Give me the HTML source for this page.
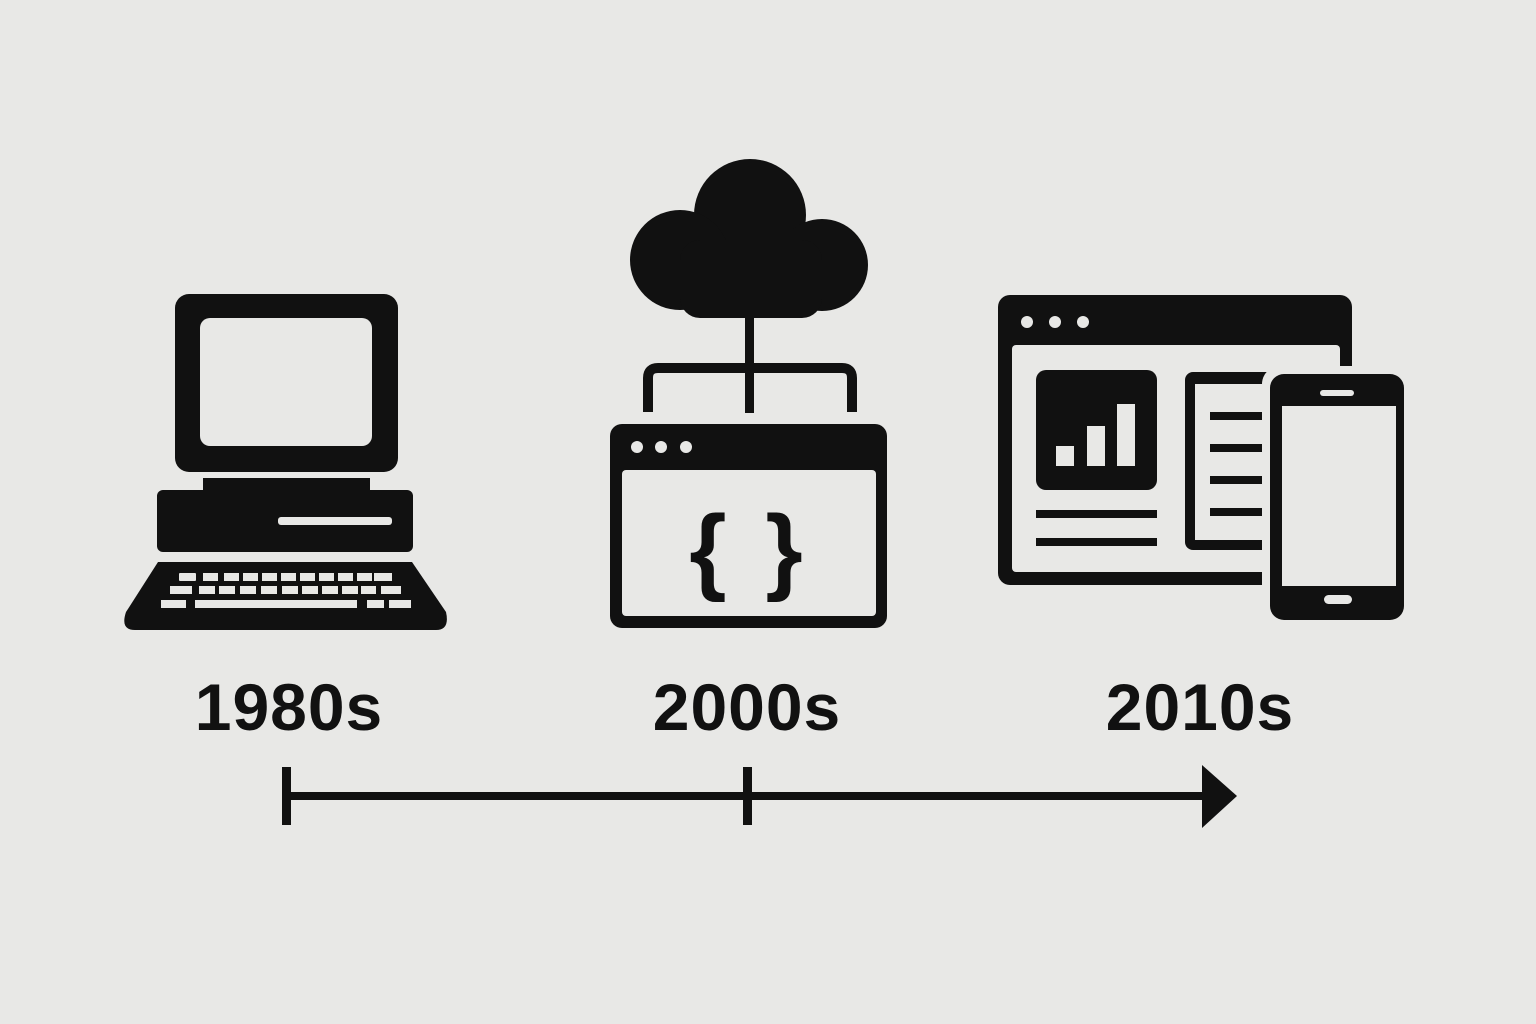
<!DOCTYPE html>
<html><head><style>
html,body{margin:0;padding:0;background:#e8e8e6;}
svg{display:block;}
text{font-family:"Liberation Sans",sans-serif;font-weight:bold;}
</style></head><body>
<svg width="1536" height="1024" viewBox="0 0 1536 1024" xmlns="http://www.w3.org/2000/svg">
<rect width="1536" height="1024" fill="#e8e8e6"/>
<g fill="#111">
<!-- computer -->
<rect x="175" y="294" width="223" height="178" rx="14"/>
<rect x="200" y="318" width="172" height="128" rx="10" fill="#e8e8e6"/>
<rect x="203" y="478" width="167" height="16"/>
<rect x="157" y="490" width="256" height="62" rx="6"/>
<rect x="278" y="517" width="114" height="8" rx="3" fill="#e8e8e6"/>
<path d="M158 562 L412 562 L446 612 Q450 630 436 630 L135 630 Q120 630 126 612 Z"/>
<g fill="#e8e8e6">
<rect x="179" y="573" width="17" height="8" rx="1"/><rect x="203" y="573" width="15" height="8"/><rect x="224" y="573" width="15" height="8"/><rect x="243" y="573" width="15" height="8"/><rect x="262" y="573" width="15" height="8"/><rect x="281" y="573" width="15" height="8"/><rect x="300" y="573" width="15" height="8"/><rect x="319" y="573" width="15" height="8"/><rect x="338" y="573" width="15" height="8"/><rect x="357" y="573" width="15" height="8"/><rect x="374" y="573" width="18" height="8"/>
<rect x="170" y="586" width="22" height="8"/><rect x="199" y="586" width="16" height="8"/><rect x="219" y="586" width="16" height="8"/><rect x="240" y="586" width="16" height="8"/><rect x="261" y="586" width="16" height="8"/><rect x="282" y="586" width="16" height="8"/><rect x="302" y="586" width="16" height="8"/><rect x="322" y="586" width="16" height="8"/><rect x="342" y="586" width="16" height="8"/><rect x="361" y="586" width="15" height="8"/><rect x="381" y="586" width="20" height="8"/>
<rect x="161" y="600" width="25" height="8"/><rect x="195" y="600" width="162" height="8"/><rect x="367" y="600" width="17" height="8"/><rect x="389" y="600" width="22" height="8"/>
</g>
<!-- cloud -->
<circle cx="750" cy="215" r="56"/>
<circle cx="680" cy="260" r="50"/>
<circle cx="822" cy="265" r="46"/>
<rect x="680" y="240" width="142" height="78" rx="20"/>
<rect x="745" y="310" width="9" height="103"/>
<path d="M648 412 V378 Q648 368 658 368 H842 Q852 368 852 378 V412" fill="none" stroke="#111" stroke-width="10"/>
<!-- browser -->
<rect x="610" y="424" width="277" height="204" rx="12"/>
<rect x="622" y="470" width="254" height="146" rx="4" fill="#e8e8e6"/>
<g fill="#e8e8e6"><circle cx="637" cy="447" r="6"/><circle cx="661" cy="447" r="6"/><circle cx="686" cy="447" r="6"/></g>
<text x="749" y="582" font-size="96" text-anchor="middle" fill="#111" letter-spacing="6">{ }</text>
<!-- right big browser -->
<rect x="998" y="295" width="354" height="290" rx="12"/>
<rect x="1012" y="345" width="328" height="227" rx="4" fill="#e8e8e6"/>
<g fill="#e8e8e6"><circle cx="1027" cy="322" r="6"/><circle cx="1055" cy="322" r="6"/><circle cx="1083" cy="322" r="6"/></g>
<rect x="1036" y="370" width="121" height="120" rx="10"/>
<g fill="#e8e8e6"><rect x="1056" y="446" width="18" height="20"/><rect x="1087" y="426" width="18" height="40"/><rect x="1117" y="404" width="18" height="62"/></g>
<rect x="1036" y="510" width="121" height="8"/>
<rect x="1036" y="538" width="121" height="8"/>
<rect x="1185" y="372" width="110" height="178" rx="8"/>
<rect x="1195" y="384" width="90" height="156" fill="#e8e8e6"/>
<g><rect x="1210" y="412" width="52" height="8"/><rect x="1210" y="444" width="52" height="8"/><rect x="1210" y="476" width="52" height="8"/><rect x="1210" y="508" width="52" height="8"/><rect x="1210" y="540" width="52" height="8"/></g>
<rect x="1262" y="366" width="150" height="262" rx="18" fill="#e8e8e6"/>
<rect x="1270" y="374" width="134" height="246" rx="14"/>
<rect x="1282" y="406" width="114" height="180" fill="#e8e8e6"/>
<rect x="1320" y="390" width="34" height="6" rx="3" fill="#e8e8e6"/>
<rect x="1324" y="595" width="28" height="9" rx="4.5" fill="#e8e8e6"/>
<!-- labels -->
<text x="289" y="730" font-size="66" text-anchor="middle" letter-spacing="1">1980s</text>
<text x="747" y="730" font-size="66" text-anchor="middle" letter-spacing="1">2000s</text>
<text x="1200" y="730" font-size="66" text-anchor="middle" letter-spacing="1">2010s</text>
<!-- timeline -->
<rect x="285" y="792" width="925" height="8"/>
<rect x="282" y="767" width="9" height="58"/>
<rect x="743" y="767" width="9" height="58"/>
<path d="M1202 765 L1237 796 L1202 828 Z"/>
</g>
</svg>
</body></html>
